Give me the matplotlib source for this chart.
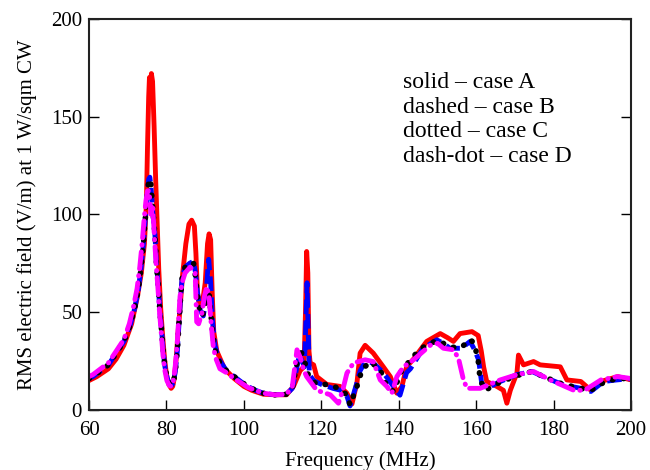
import matplotlib
matplotlib.use("Agg")
import matplotlib.pyplot as plt

# case A (red, solid)
freq_a = [60, 62, 65, 67, 69, 71, 72.5, 73.5, 74.3, 74.8, 75.1, 75.4, 75.6, 75.9, 76.1, 76.4, 76.8, 77.2,
          77.6, 78.0, 78.5, 79.0, 79.5, 80.0, 80.6, 81.2, 81.6, 82.0, 82.5, 83.0, 83.5, 84.2, 85.0, 85.8,
          86.5, 87.2, 87.6, 88.0, 88.5, 89.3, 90.0, 90.6, 91.0, 91.4, 91.8, 92.2, 93.0, 95, 97.5, 100,
          102, 105, 108, 111, 112.8, 114.5, 115.5, 115.9, 116.2, 116.5, 116.8, 117.1, 118, 118.8, 121.4,
          124.8, 126.6, 127.9, 129.2, 130, 131.3, 133.4, 136, 137.8, 139.5, 140.8, 142, 143.8, 147.2,
          150.7, 152.5, 154.1, 155.8, 158.9, 160.5, 161.3, 161.9, 162.7, 165.3, 167, 167.9, 168.8, 170.5,
          170.9, 172.2, 174.8, 176.5, 181.7, 183.4, 187, 189.6, 192.2, 196.5, 200]
val_a = [15, 17, 21, 26, 33, 44, 58, 70, 85, 105, 135, 160, 170, 162, 172, 168, 145, 118,
         95, 72, 52, 38, 26, 18, 13, 11, 12, 16, 26, 40, 52, 70, 85, 95,
         97, 94, 80, 60, 53, 55, 65, 85, 90, 87, 60, 40, 30, 21, 16, 12,
         10, 8, 7.7, 7.7, 12, 20, 22, 50, 81, 70, 30, 24, 23, 17, 13,
         12, 8.5, 3, 14, 29, 33, 29, 22, 17, 8.5, 12, 22, 26, 35,
         39, 37, 35, 39, 40, 38, 30, 22, 14.5, 12, 10, 3.4, 10, 18.8,
         28, 23, 24.7, 23, 22, 15.3, 14.5, 10, 14.5, 17, 15.3]

# case B (blue, dashed)
freq_b = [60, 61, 63, 65, 67, 69, 70.6, 71.8, 72.7, 73.4, 74, 74.5, 74.9, 75.4, 75.7, 76, 76.5, 77,
          77.4, 77.9, 78.3, 78.8, 79.2, 79.6, 80.2, 80.8, 81.3, 81.8, 82.3, 82.8, 83.2, 83.6, 84, 84.8,
          86, 87, 87.5, 88, 88.7, 89.5, 90.1, 90.6, 90.9, 91.4, 91.9, 92.5, 93.5, 95.5, 97.5, 99.5, 101,
          103, 105, 108, 111, 112.5, 113.5, 114.3, 115, 115.6, 116, 116.3, 116.6, 116.9, 118, 120, 123,
          125, 126.6, 127.4, 128.3, 129.2, 130, 131.3, 133.4, 136, 138.6, 140.3, 142, 143, 146.3, 149.8,
          151.5, 153.2, 156.2, 158.4, 159.5, 160.6, 161.4, 162.7, 166.2, 170.5, 174.4, 178.2, 182.5, 187,
          189.6, 192.9, 196.3, 200]
val_b = [16, 17, 20, 23, 29, 35, 43, 52, 61, 72, 84, 97, 107, 118, 119, 114, 100, 90,
         75, 63, 50, 39, 29, 22, 16, 13.5, 12.5, 14, 20, 30, 43, 56, 67, 73,
         75, 76, 70, 60, 51, 48, 55, 70, 77, 65, 45, 33, 26, 20, 17, 14, 12,
         10, 8.5, 7.7, 8, 11, 20, 28, 25, 22, 45, 65, 40, 18, 15, 13, 11,
         10, 7, 2, 8, 14, 20, 24.5, 24, 19, 12, 7.5, 19, 21, 31.5, 35.8,
         34, 31.5, 31.5, 35, 31, 25.6, 13.6, 11, 14.5, 18, 19.6, 16.2, 12.8, 11,
         9.4, 14.5, 15.3, 16]

# case C (black, dotted)
freq_c = [60, 61, 63, 65, 67, 69, 70.6, 71.8, 72.7, 73.4, 74, 74.5, 74.9, 75.4, 75.7, 76, 76.5, 77,
          77.4, 77.9, 78.3, 78.8, 79.2, 79.6, 80.2, 80.8, 81.3, 81.8, 82.3, 82.8, 83.2, 83.6, 84, 84.8,
          86, 87, 87.5, 88, 88.7, 89.3, 90.0, 90.6, 91.0, 91.5, 92.0, 92.5, 93.5, 95.5, 97.5, 99.5, 101,
          103, 105, 108, 111, 112.5, 113.8, 114.5, 115.5, 116.2, 116.7, 118.8, 121, 123.1, 125, 126.6,
          127.4, 129.2, 130.5, 132.6, 135.2, 136.9, 138.6, 140.8, 142, 143.5, 146.3, 149.8, 151.5, 153.2,
          156.2, 158.4, 159.5, 160.5, 161, 162.3, 166, 170.5, 174.4, 178, 182.5, 187, 189.6, 192.9,
          196.3, 200]
val_c = [16, 17, 20, 23, 29, 35, 43, 52, 61, 72, 84, 97, 107, 117, 118, 115, 102, 90,
         75, 63, 50, 39, 29, 22, 16, 13.5, 12.5, 14, 20, 30, 43, 56, 67, 73,
         75, 75, 68, 58, 50, 48, 53, 62, 60, 48, 38, 31, 25, 20, 17, 14, 12,
         10, 8.5, 7.7, 8, 11, 25, 31.7, 25, 22, 17, 13, 13, 12.3, 10, 7.7,
         2.5, 12, 20.5, 24.7, 20.5, 12, 9.4, 20.5, 23, 27, 32, 35.5, 34, 32,
         32, 36, 34, 25, 15.3, 10, 14, 17.5, 19.6, 16.5, 13, 11, 10, 14,
         16, 16]

# case D (magenta, dash-dot)
freq_d = [60, 61, 63, 65, 67, 69, 70.4, 71.5, 72.4, 73.1, 73.7, 74.2, 74.7, 75.1, 75.5, 76.0, 76.4,
          76.9, 77.3, 77.8, 78.2, 78.7, 79.1, 79.5, 80.1, 80.7, 81.2, 81.7, 82.2, 82.7, 83.1, 83.5,
          84.0, 84.8, 86.1, 87.4, 87.8, 88.3, 89.1, 89.8, 90.4, 91.0, 91.5, 92.1, 92.8, 93.8, 95.5,
          97.5, 99.5, 101, 103, 105, 108, 111, 112.5, 113.7, 114.5, 115.5, 116.2, 118.8, 122.3, 124.4,
          125.5, 126.6, 128.3, 131.3, 133.4, 135.2, 136.9, 138.2, 139.5, 141.2, 143.8, 148.1, 150,
          151.5, 154.1, 155.4, 156.7, 157.6, 161, 166.2, 170.5, 174.8, 179.1, 185.2, 188, 192.2,
          196.5, 200]
val_d = [17, 18, 21, 24, 30, 36, 44, 53, 62, 73, 85, 97, 107, 112, 112, 100, 105,
         88, 75, 62, 50, 38, 28, 21, 15, 12.5, 12, 14, 21, 32, 45, 58,
         65, 70, 73, 70, 45, 44, 49, 58, 63, 58, 45, 32, 26, 21, 19,
         16, 13.5, 11.5, 10, 8.5, 7.7, 8, 12, 30.7, 27, 20, 17, 10, 7.7, 3.4,
         10, 18.8, 24, 25.6, 24.7, 15.3, 12, 8.5, 17, 22, 25.6, 33, 34,
         31.5, 30.7, 26.4, 15.3, 11, 11, 15.3, 18, 19.6, 15.3, 10, 10, 15.3,
         17, 16]

legend_lines = ["solid \u2013 case A", "dashed \u2013 case B", "dotted \u2013 case C", "dash-dot \u2013 case D"]

plt.rcParams["font.family"] = ["Liberation Serif", "DejaVu Serif"]

fig = plt.figure(figsize=(6.5, 4.7), dpi=100)
ax = fig.add_axes([0.137, 0.128, 0.834, 0.832])

ax.plot(freq_a, val_a, color="#ff0000", lw=3.5, solid_joinstyle="round")
ax.plot(freq_b, val_b, color="#0000ff", lw=3.5, linestyle=(0, (3, 1.3)))
ax.plot(freq_c, val_c, color="black", lw=4, linestyle=(0, (0.1, 1.9)), dash_capstyle="round")
ax.plot(freq_d, val_d, color="#ff00ff", lw=3.5, linestyle=(0, (3.5, 1.4, 0.1, 1.4)), dash_capstyle="round")

ax.set_xlim(60, 200)
ax.set_ylim(0, 200)
ax.set_xticks(range(60, 201, 20))
ax.set_yticks(range(0, 201, 50))
ax.tick_params(direction="in", length=7, width=1, labelsize=15, top=False, right=True)
ax.tick_params(axis="x", pad=8)
ax.tick_params(axis="y", pad=5)
for s in ax.spines.values():
    s.set_linewidth(1.5)
    s.set_color("#222222")

ax.set_xlabel("Frequency (MHz)", fontsize=15, labelpad=8)
ax.set_ylabel("RMS electric field (V/m) at 1 W/sqm CW", fontsize=15, labelpad=10)

for i, t in enumerate(legend_lines):
    ax.text(0.579, 0.836 - i * 0.0627, t, transform=ax.transAxes, fontsize=17, va="center", ha="left")

fig.savefig("out.png", dpi=100)
